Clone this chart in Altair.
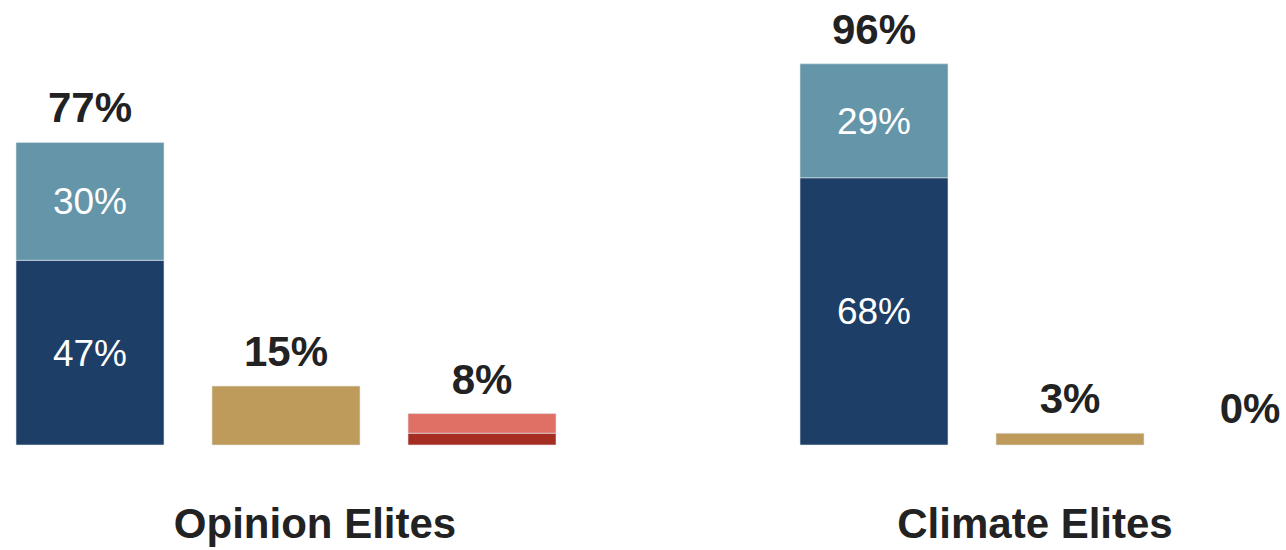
import altair as alt
import pandas as pd

# ---- data ----
groups = ["Opinion Elites", "Climate Elites"]
group_center_slot = [1, 5]

categories = ["Strongly support", "Somewhat support", "Neutral",
              "Strongly oppose", "Somewhat oppose"]
cat_colors = ["#1d3e66", "#6595a9", "#bf9b5b", "#a52d22", "#e07066"]

# bar slots (position index along x) for each group: support, neutral, oppose
bar_slots = {"Opinion Elites": [0, 1, 2], "Climate Elites": [4, 5, 6]}

# segment values per group, in category order
opinion_values = [47, 30, 15, 3, 5]
climate_values = [68, 29, 3, 0, 0]

# bar total labels per group (support, neutral, oppose)
opinion_totals = [77, 15, 8]
climate_totals = [96, 3, 0]

# which bar each category belongs to (0 support, 1 neutral, 2 oppose)
cat_bar = [0, 0, 1, 2, 2]
cat_inner_label = [True, True, False, False, False]

# ---- build tables ----
seg_rows = []
tot_rows = []
for g, vals, tots in [("Opinion Elites", opinion_values, opinion_totals),
                      ("Climate Elites", climate_values, climate_totals)]:
    cum = {0: 0, 1: 0, 2: 0}
    for c, v, b, lab in zip(categories, vals, cat_bar, cat_inner_label):
        slot = bar_slots[g][b]
        start = cum[b]
        end = start + v
        cum[b] = end
        seg_rows.append(dict(group=g, category=c, slot=slot, value=v,
                             start=start, end=end, mid=(start + end) / 2,
                             label=f"{v}%" if (lab and v > 0) else ""))
    for b in range(3):
        tot_rows.append(dict(group=g, slot=bar_slots[g][b], top=cum[b],
                             label=f"{tots[b]}%", edge=(bar_slots[g][b] == 6)))

seg = pd.DataFrame(seg_rows)
tot = pd.DataFrame(tot_rows)
titles = pd.DataFrame(dict(group=groups, slot=group_center_slot))

xscale = alt.Scale(domain=[-90 / 196, 1196 / 196], nice=False, zero=False, padding=0)
yscale = alt.Scale(domain=[-105 / 3.93, 445 / 3.93], nice=False, zero=False, padding=0)

base_x = alt.X("slot:Q", scale=xscale, axis=None)

bars = alt.Chart(seg).transform_filter("datum.value > 0").mark_bar(
    width=148, stroke="#dfe6ea", strokeWidth=0.6
).encode(
    x=base_x,
    y=alt.Y("start:Q", scale=yscale, axis=None),
    y2="end:Q",
    color=alt.Color("category:N",
                    scale=alt.Scale(domain=categories, range=cat_colors),
                    legend=None),
)

inner = alt.Chart(seg).transform_filter("datum.label != ''").mark_text(
    color="white", fontSize=37, font="Liberation Sans", baseline="middle", dy=2
).encode(
    x=base_x,
    y=alt.Y("mid:Q", scale=yscale, axis=None),
    text="label:N",
)

tot_main = alt.Chart(tot).transform_filter("!datum.edge").mark_text(
    color="#222222", fontSize=42, fontWeight="bold", font="Liberation Sans",
    baseline="alphabetic", dy=-20
).encode(
    x=base_x,
    y=alt.Y("top:Q", scale=yscale, axis=None),
    text="label:N",
)

tot_edge = alt.Chart(tot).transform_filter("datum.edge").mark_text(
    color="#222222", fontSize=42, fontWeight="bold", font="Liberation Sans",
    baseline="alphabetic", dy=-22, dx=-16
).encode(
    x=base_x,
    y=alt.Y("top:Q", scale=yscale, axis=None),
    text="label:N",
)

title_style = dict(color="#222222", fontSize=42, fontWeight="bold",
                   font="Liberation Sans", baseline="alphabetic")

title_op = alt.Chart(titles).transform_filter(
    "datum.group == 'Opinion Elites'"
).mark_text(dx=29, **title_style).encode(
    x=base_x, y=alt.value(538), text="group:N"
)
title_cl = alt.Chart(titles).transform_filter(
    "datum.group == 'Climate Elites'"
).mark_text(dx=-35, **title_style).encode(
    x=base_x, y=alt.value(538), text="group:N"
)

chart = alt.layer(bars, inner, tot_main, tot_edge, title_op, title_cl).properties(
    width=1286, height=550,
    autosize=alt.AutoSizeParams(type="none"),
    padding=0,
    background="white",
).configure_view(stroke=None)

chart.save("out.html", embed_options={"renderer": "svg", "actions": False})
